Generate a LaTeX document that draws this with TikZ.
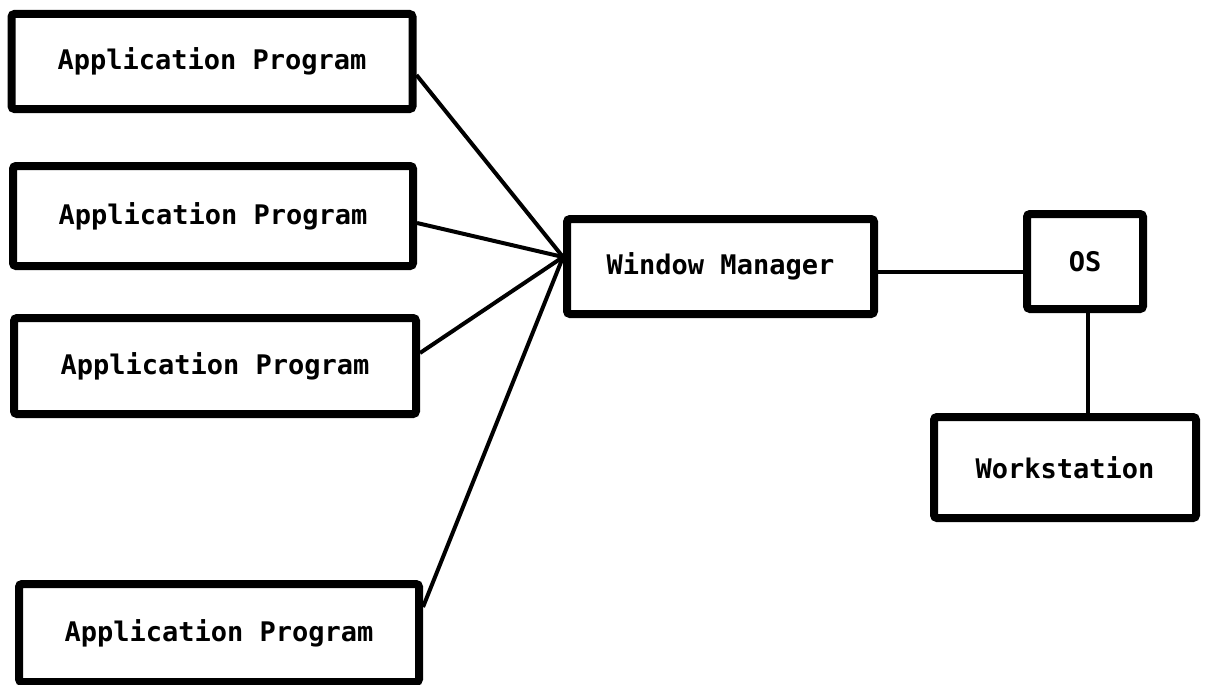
\documentclass[tikz,border=0pt]{standalone}
\usepackage{fontspec}
\setmainfont{DejaVu Sans Mono}
\begin{document}
\begin{tikzpicture}[x=1pt,y=-1pt,
  block/.style={draw=black, line width=8pt, rounded corners=3pt, fill=white,
    inner sep=0pt, align=center,
    font=\fontsize{27}{30}\selectfont\bfseries},
  link/.style={draw=black, line width=4pt}]
\useasboundingbox (0,0) rectangle (1205,685);
\fill[white] (0,0) rectangle (1205,685);

% software layers (labels sit a little below the box centre)
\newcommand\lowered[1]{\raisebox{-4pt}{#1}}
\node[block, minimum width=401pt, minimum height=95pt]  (app1) at (212,61.5)   {\lowered{Application Program}};
\node[block, minimum width=400pt, minimum height=100pt] (app2) at (213,216)    {\lowered{Application Program}};
\node[block, minimum width=402pt, minimum height=96pt]  (app3) at (215,366)    {\lowered{Application Program}};
\node[block, minimum width=400pt, minimum height=98pt]  (app4) at (219,633)    {\lowered{Application Program}};
\node[block, minimum width=307pt, minimum height=95pt]  (wm)   at (720.5,266.5) {\lowered{Window Manager}};
\node[block, minimum width=116pt, minimum height=95pt]  (os)   at (1085,261.5) {OS};
\node[block, minimum width=262pt, minimum height=101pt] (ws)   at (1065,467.5) {Workstation};

% common entry point on the window manager
\coordinate (hub) at ([yshift=9.5pt]wm.west);

\draw[link] ([yshift=-13.5pt]app1.east) -- (hub);
\draw[link] ([yshift=-7pt]app2.east) -- (hub);
\draw[link] ([yshift=13pt]app3.east) -- (hub);
\draw[link] ([yshift=26pt]app4.east) -- (hub);

\coordinate (wmout) at ([yshift=-5.5pt]wm.east);
\draw[link] (wmout) -- (wmout -| os.west);

\coordinate (osout) at ([xshift=3pt]os.south);
\draw[link] (osout) -- (osout |- ws.north);
\end{tikzpicture}
\end{document}
